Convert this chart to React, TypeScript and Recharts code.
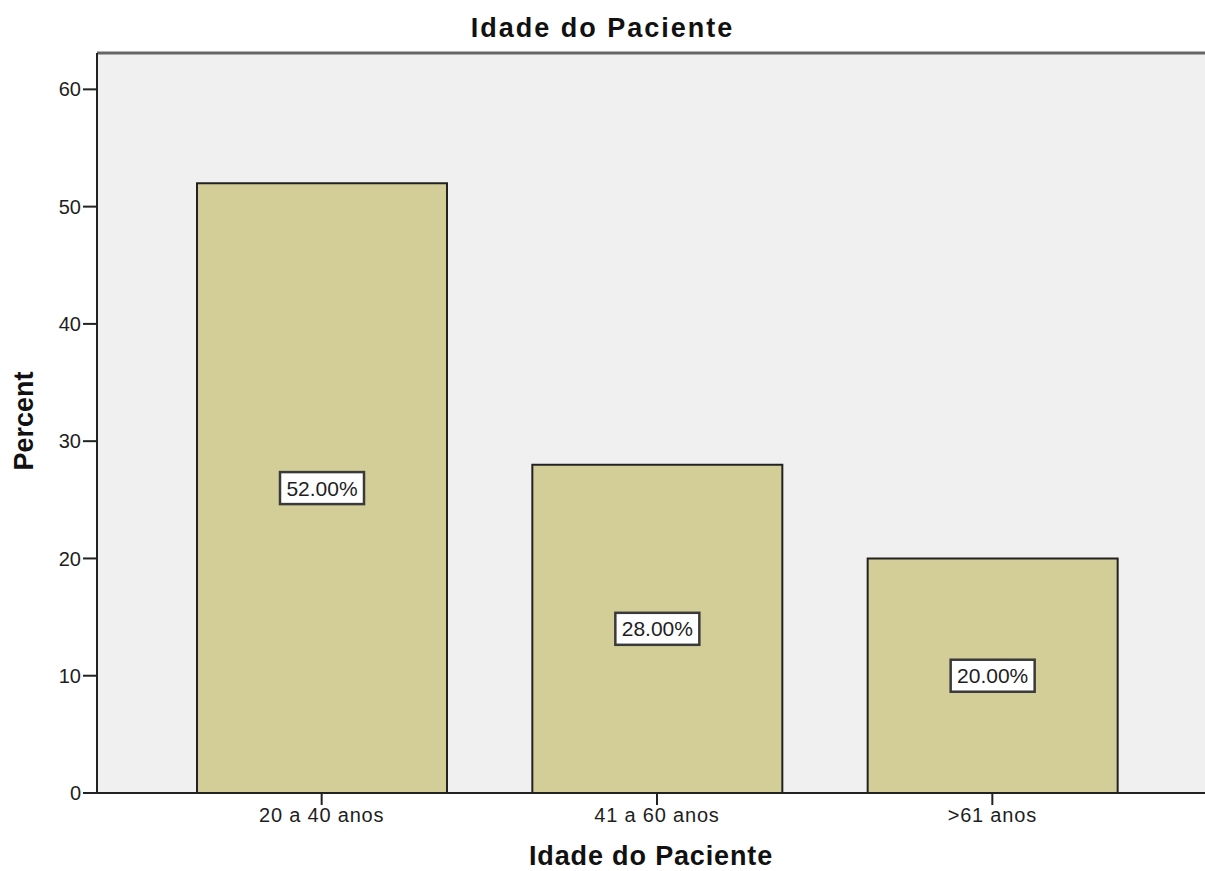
import React from 'react';
import { BarChart, Bar, XAxis, YAxis, CartesianGrid, ReferenceLine, LabelList } from 'recharts';

const categories = ['20 a 40 anos', '41 a 60 anos', '>61 anos'];
const percents = [52, 28, 20];
const yTicks = [0, 10, 20, 30, 40, 50, 60];
const Y_MAX = 63.1;
const TITLE = 'Idade do Paciente';
const X_LABEL = 'Idade do Paciente';
const Y_LABEL = 'Percent';

const data = categories.map((c, i) => ({ category: c, percent: percents[i] }));

const FONT = '"Liberation Sans", Arial, sans-serif';

const ValueBox = (props: any) => {
  const { x, y, width, height, value } = props;
  const cx = Number(x) + Number(width) / 2;
  const cy = Number(y) + Number(height) / 2;
  const w = 84;
  const h = 32;
  return (
    <g>
      <rect x={cx - w / 2} y={cy - h / 2} width={w} height={h} fill="#ffffff" stroke="#3a3a3a" strokeWidth={2.5} />
      <text x={cx} y={cy} textAnchor="middle" dominantBaseline="central" fontFamily={FONT} fontSize={21} fill="#1e1e1e">
        {`${Number(value).toFixed(2)}%`}
      </text>
    </g>
  );
};

const XLabel = () => {
  const cx = 651;
  return (
    <text x={cx} y={865} textAnchor="middle" fontFamily={FONT} fontSize={27} fontWeight="bold" letterSpacing={0.85} fill="#111">
      {X_LABEL}
    </text>
  );
};

const YLabel = () => {
  const x = 33;
  const y = 421;
  return (
    <text x={x} y={y} transform={`rotate(-90, ${x}, ${y})`} textAnchor="middle" fontFamily={FONT} fontSize={27} fontWeight="bold" fill="#111">
      {Y_LABEL}
    </text>
  );
};

export default function App() {
  return (
    <div style={{ position: 'absolute', left: 0, top: 0, width: 1205, height: 871, background: '#fff' }}>
      <div
        style={{
          position: 'absolute',
          left: 0,
          top: 15,
          width: 1205,
          textAlign: 'center',
          fontFamily: FONT,
          fontSize: 27,
          lineHeight: '27px',
          fontWeight: 'bold',
          letterSpacing: 2,
          color: '#111',
        }}
      >
        {TITLE}
      </div>
      <BarChart
        width={1205}
        height={871}
        data={data}
        margin={{ top: 53, right: 0, left: 0, bottom: 0 }}
        style={{ position: 'absolute', left: 0, top: 0 }}
      >
        <CartesianGrid fill="#F0F0F0" stroke="none" horizontal={false} vertical={false} />
        <ReferenceLine y={Y_MAX} stroke="#666666" strokeWidth={3} />
        <XAxis
          dataKey="category"
          height={78}
          padding={{ left: 57, right: 45 }}
          tickSize={12}
          tickMargin={3}
          axisLine={{ stroke: '#222', strokeWidth: 2 }}
          tickLine={{ stroke: '#222', strokeWidth: 2 }}
          tick={{ fontFamily: FONT, fontSize: 20, fill: '#1e1e1e', letterSpacing: 0.8 }}
          label={<XLabel />}
        />
        <YAxis
          width={97}
          domain={[0, Y_MAX]}
          ticks={yTicks}
          allowDataOverflow
          tickSize={14}
          tickMargin={2}
          axisLine={{ stroke: '#222', strokeWidth: 2 }}
          tickLine={{ stroke: '#222', strokeWidth: 2 }}
          tick={{ fontFamily: FONT, fontSize: 20, fill: '#1e1e1e' }}
          label={<YLabel />}
        />
        <Bar dataKey="percent" fill="#D3CE97" stroke="#222" strokeWidth={2} barSize={250} isAnimationActive={false}>
          <LabelList dataKey="percent" content={<ValueBox />} />
        </Bar>
      </BarChart>
    </div>
  );
}
